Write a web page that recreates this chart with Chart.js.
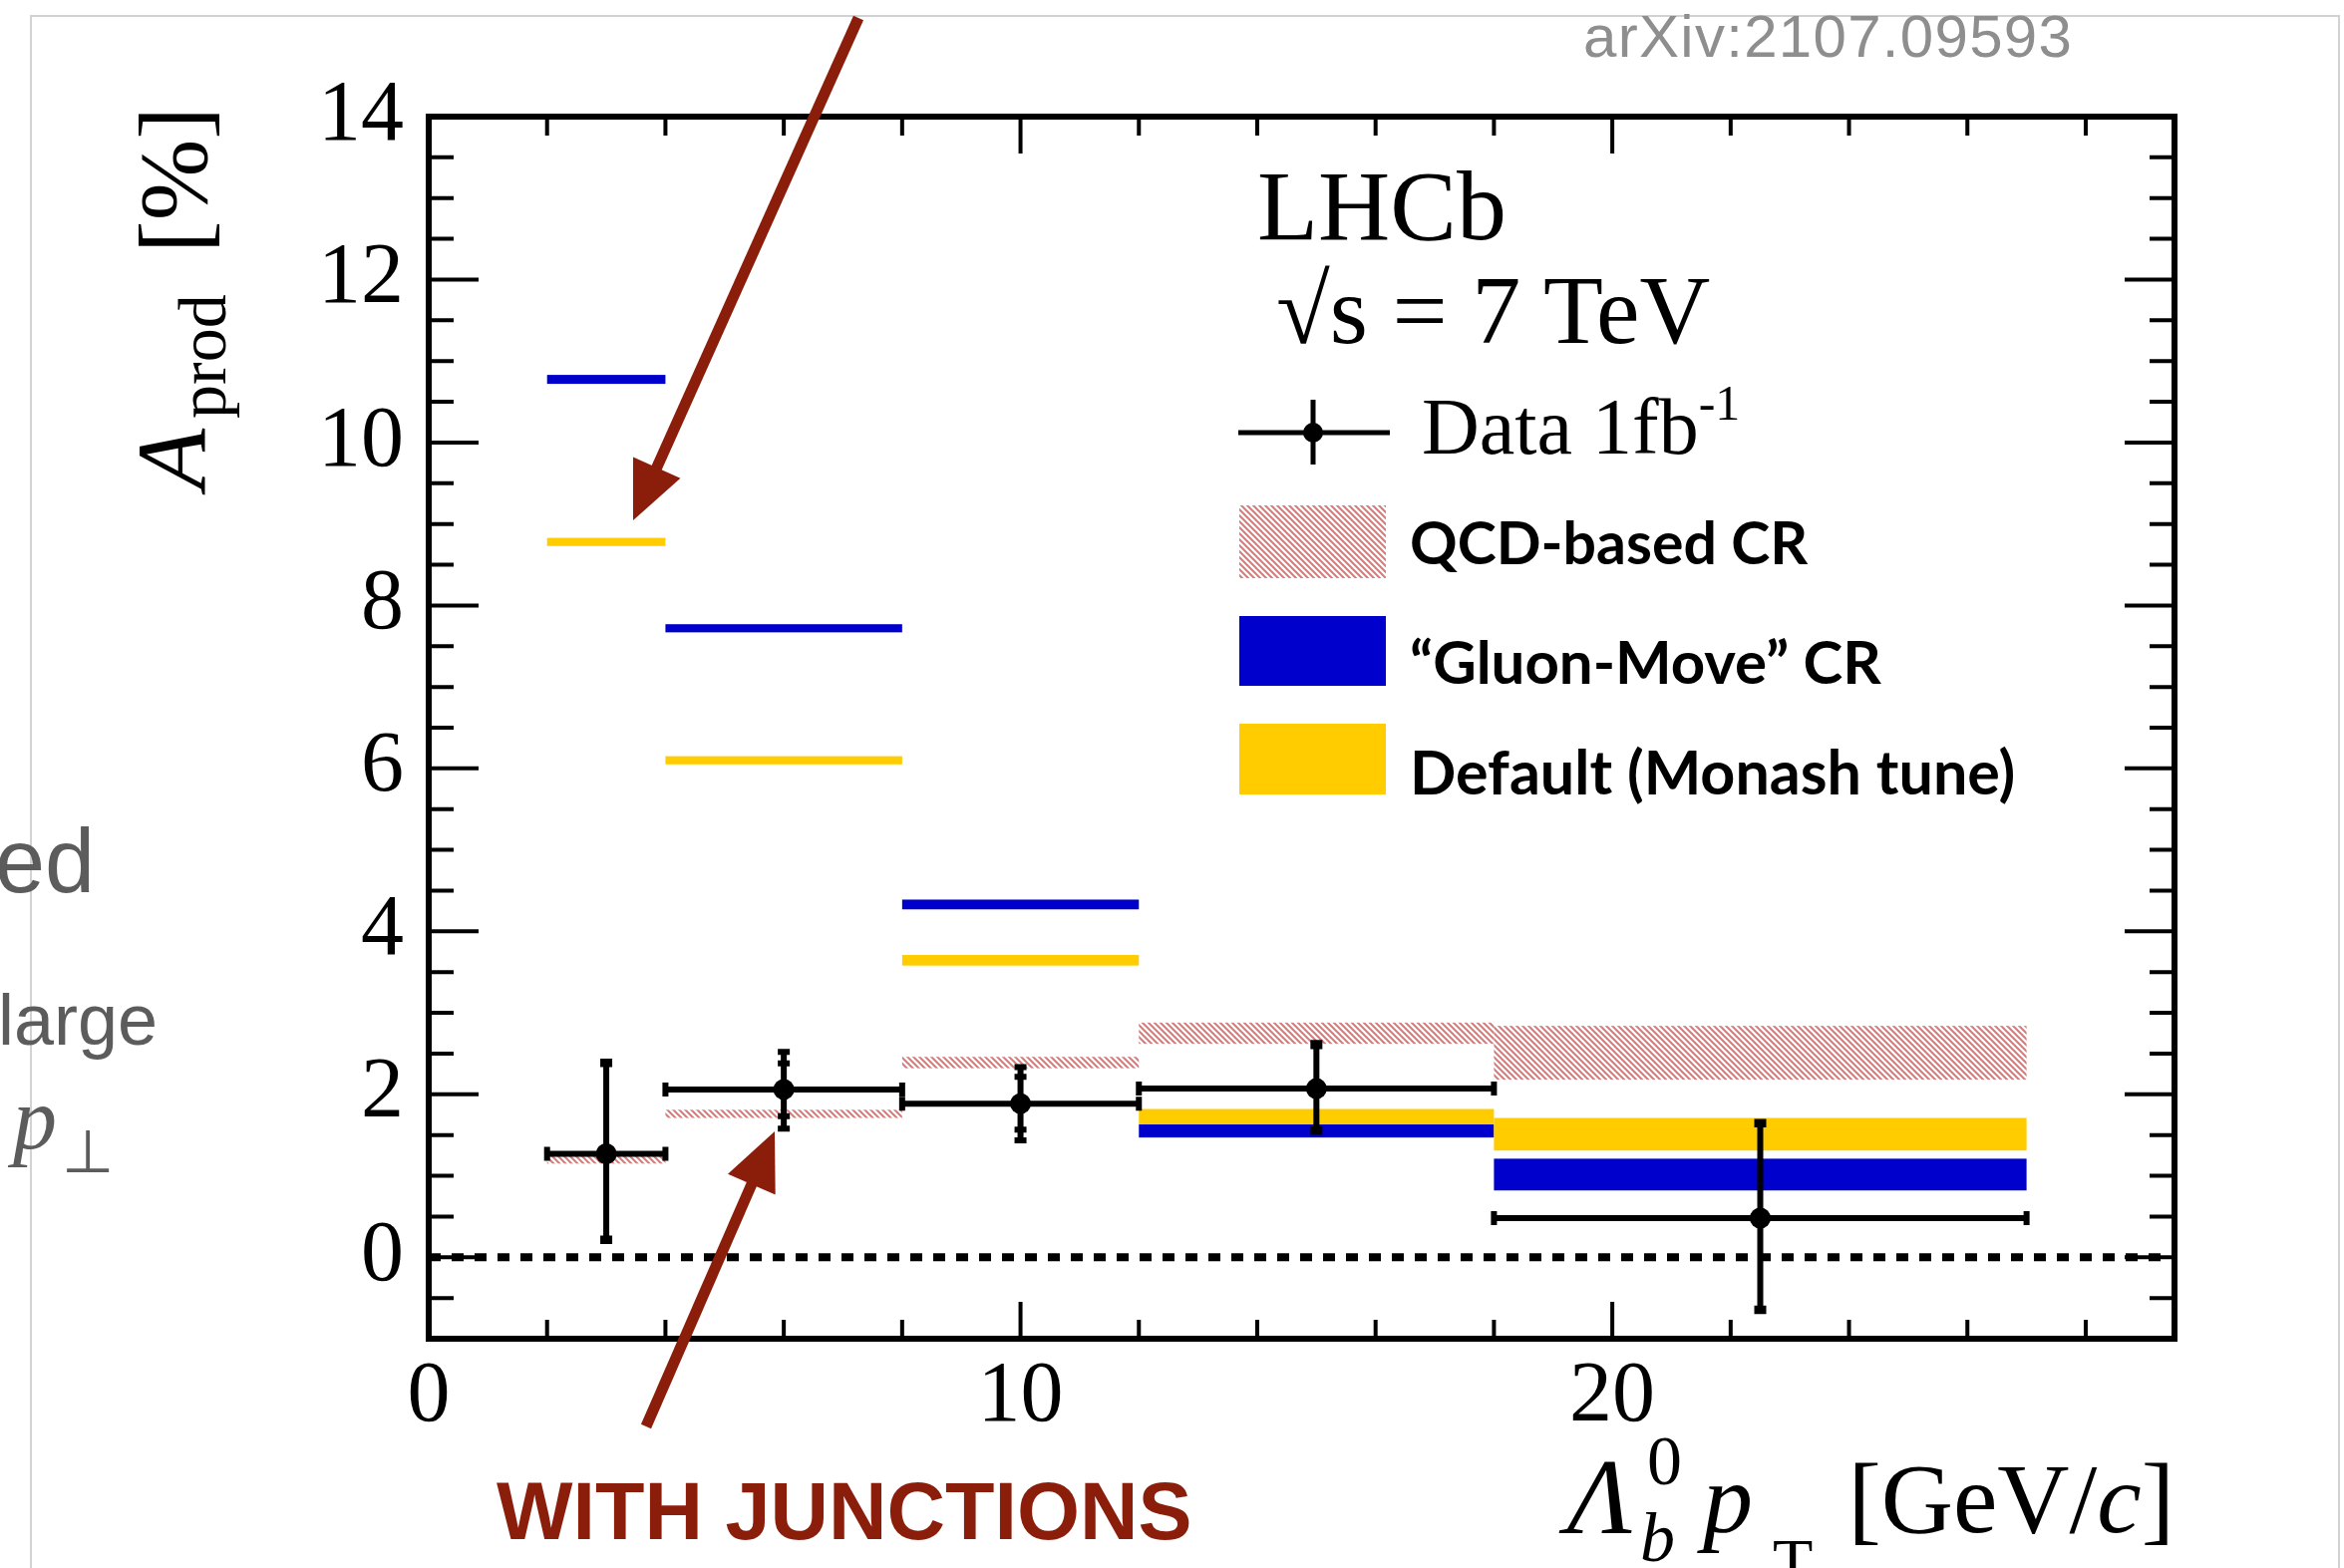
<!DOCTYPE html>
<html>
<head>
<meta charset="utf-8">
<title>LHCb A_prod vs Lambda_b pT</title>
<script src="https://cdn.jsdelivr.net/npm/chart.js@4.4.1/dist/chart.umd.min.js"></script>
<style>
  html, body { margin: 0; padding: 0; background: #fff; }
  #wrap { position: relative; width: 2351px; height: 1573px; overflow: hidden; background: #fff; }
  #chart { position: absolute; left: 0; top: 0; }
  .frame { position: absolute; left: 30px; top: 15px; width: 2317px; height: 1700px; border: 2px solid #d2d2d2; box-sizing: border-box; }
  .txt { position: absolute; line-height: 1; white-space: nowrap; color: #000; }
</style>
</head>
<body>
<div id="wrap">
  <div class="frame"></div>
  <canvas id="chart" width="2351" height="1573"></canvas>
</div>
<script>
// pT bins [GeV/c]
const binLo = [2, 4, 8, 12, 18];
const binHi = [4, 8, 12, 18, 27];

// LHCb data, 1 fb^-1 (total and statistical errors)
const dataPt = [3, 6, 10, 15, 22.5];
const dataAprod = [1.27, 2.06, 1.885, 2.07, 0.48];
const dataErrUp = [1.13, 0.46, 0.45, 0.56, 1.18];
const dataErrDown = [1.07, 0.48, 0.45, 0.53, 1.14];
const dataStatUp = [1.10, 0.32, 0.33, 0.52, 1.15];
const dataStatDown = [1.04, 0.33, 0.32, 0.50, 1.11];

// Pythia bands (low / high edge, %)
const qcdLow = [1.15, 1.71, 2.32, 2.62, 2.18];
const qcdHigh = [1.24, 1.81, 2.46, 2.88, 2.84];
const gluonLow = [10.72, 7.67, 4.27, 1.47, 0.82];
const gluonHigh = [10.83, 7.77, 4.39, 1.63, 1.21];
const monashLow = [8.73, 6.05, 3.58, 1.63, 1.31];
const monashHigh = [8.83, 6.15, 3.71, 1.82, 1.71];

const xTickValues = [0, 10, 20];
const yTickValues = [0, 2, 4, 6, 8, 10, 12, 14];

const BLUE = '#0000cc';
const YELLOW = '#ffcc00';
const ARROW = '#8b1d0b';

function makeHatch(ctx) {
  const p = 6;
  const c = document.createElement('canvas');
  c.width = c.height = p;
  const g = c.getContext('2d');
  g.strokeStyle = 'rgb(222, 120, 120)';
  g.lineWidth = 2;
  g.beginPath();
  g.moveTo(-1, -1); g.lineTo(p + 1, p + 1);
  g.moveTo(-1, p - 1); g.lineTo(1, p + 1);
  g.moveTo(p - 1, -1); g.lineTo(p + 1, 1);
  g.stroke();
  return ctx.createPattern(c, 'repeat');
}

function band(ctx, x, y, i, lo, hi, fill) {
  const x1 = x.getPixelForValue(binLo[i]), x2 = x.getPixelForValue(binHi[i]);
  const y1 = y.getPixelForValue(hi[i]), y2 = y.getPixelForValue(lo[i]);
  ctx.fillStyle = fill;
  ctx.fillRect(x1, y1, x2 - x1, y2 - y1);
}

function arrow(ctx, x0, y0, x1, y1) {
  const dx = x1 - x0, dy = y1 - y0, L = Math.hypot(dx, dy);
  const ux = dx / L, uy = dy / L;
  const head = 58, half = 26;
  const bx = x1 - ux * head, by = y1 - uy * head;
  ctx.strokeStyle = ARROW;
  ctx.fillStyle = ARROW;
  ctx.lineWidth = 11;
  ctx.beginPath();
  ctx.moveTo(x0, y0);
  ctx.lineTo(bx + ux * 6, by + uy * 6);
  ctx.stroke();
  ctx.beginPath();
  ctx.moveTo(x1, y1);
  ctx.lineTo(bx - uy * half, by + ux * half);
  ctx.lineTo(bx + uy * half, by - ux * half);
  ctx.closePath();
  ctx.fill();
}

const hepPlot = {
  id: 'hepPlot',
  beforeDatasetsDraw(chart) {
    const { ctx, chartArea: a, scales: { x, y } } = chart;
    ctx.save();
    ctx.beginPath();
    ctx.rect(a.left, a.top, a.right - a.left, a.bottom - a.top);
    ctx.clip();

    // dashed zero line
    const y0 = y.getPixelForValue(0);
    ctx.setLineDash([12, 11]);
    ctx.lineWidth = 8;
    ctx.strokeStyle = '#000';
    ctx.beginPath();
    ctx.moveTo(a.left, y0);
    ctx.lineTo(a.right, y0);
    ctx.stroke();
    ctx.setLineDash([]);

    // model bands
    const hatch = makeHatch(ctx);
    for (let i = 0; i < binLo.length; i++) {
      band(ctx, x, y, i, qcdLow, qcdHigh, hatch);
      band(ctx, x, y, i, monashLow, monashHigh, YELLOW);
      band(ctx, x, y, i, gluonLow, gluonHigh, BLUE);
    }

    // data error bars
    ctx.strokeStyle = '#000';
    ctx.lineWidth = 6;
    ctx.beginPath();
    for (let i = 0; i < dataPt.length; i++) {
      const xl = x.getPixelForValue(binLo[i]), xh = x.getPixelForValue(binHi[i]);
      const xc = x.getPixelForValue(dataPt[i]);
      const yc = y.getPixelForValue(dataAprod[i]);
      const yt = y.getPixelForValue(dataAprod[i] + dataErrUp[i]);
      const yb = y.getPixelForValue(dataAprod[i] - dataErrDown[i]);
      const st = y.getPixelForValue(dataAprod[i] + dataStatUp[i]);
      const sb = y.getPixelForValue(dataAprod[i] - dataStatDown[i]);
      ctx.moveTo(xl, yc); ctx.lineTo(xh, yc);
      ctx.moveTo(xl, yc - 7); ctx.lineTo(xl, yc + 7);
      ctx.moveTo(xh, yc - 7); ctx.lineTo(xh, yc + 7);
      ctx.moveTo(xc, yt); ctx.lineTo(xc, yb);
      ctx.moveTo(xc - 6, yt); ctx.lineTo(xc + 6, yt);
      ctx.moveTo(xc - 6, yb); ctx.lineTo(xc + 6, yb);
      ctx.moveTo(xc - 6, st); ctx.lineTo(xc + 6, st);
      ctx.moveTo(xc - 6, sb); ctx.lineTo(xc + 6, sb);
    }
    ctx.stroke();
    ctx.restore();
  },
  afterDraw(chart) {
    const { ctx, chartArea: a, scales: { x, y } } = chart;
    ctx.save();
    // frame
    ctx.strokeStyle = '#000';
    ctx.lineWidth = 6;
    ctx.strokeRect(a.left, a.top, a.right - a.left, a.bottom - a.top);

    // inward ticks on all sides
    ctx.lineWidth = 4;
    ctx.beginPath();
    for (let v = 2; v <= x.max; v += 2) {
      const px = x.getPixelForValue(v);
      const len = v % 10 === 0 ? 37 : 19;
      ctx.moveTo(px, a.bottom); ctx.lineTo(px, a.bottom - len);
      ctx.moveTo(px, a.top); ctx.lineTo(px, a.top + len);
    }
    for (let v = y.min + 0.5; v < y.max; v += 0.5) {
      const py = y.getPixelForValue(v);
      const len = v % 2 === 0 ? 50 : 25;
      ctx.moveTo(a.left, py); ctx.lineTo(a.left + len, py);
      ctx.moveTo(a.right, py); ctx.lineTo(a.right - len, py);
    }
    ctx.stroke();

    // legend symbols
    ctx.lineWidth = 5;
    ctx.beginPath();
    ctx.moveTo(1242, 434); ctx.lineTo(1394, 434);
    ctx.moveTo(1317, 401); ctx.lineTo(1317, 466);
    ctx.stroke();
    ctx.fillStyle = '#000';
    ctx.beginPath();
    ctx.arc(1317, 434, 10, 0, Math.PI * 2);
    ctx.fill();
    ctx.fillStyle = makeHatch(ctx);
    ctx.fillRect(1243, 507, 147, 73);
    ctx.fillStyle = BLUE;
    ctx.fillRect(1243, 618, 147, 70);
    ctx.fillStyle = YELLOW;
    ctx.fillRect(1243, 726, 147, 71);

    // annotation arrows
    arrow(ctx, 861, 18, 635, 522);
    arrow(ctx, 648, 1431, 777, 1135);
    ctx.restore();
  }
};

new Chart(document.getElementById('chart'), {
  type: 'scatter',
  data: {
    datasets: [{
      label: 'Data 1fb-1',
      data: dataPt.map((v, i) => ({ x: v, y: dataAprod[i] })),
      pointRadius: 10.5,
      pointHoverRadius: 10.5,
      pointBackgroundColor: '#000',
      pointBorderWidth: 0,
      showLine: false
    }]
  },
  options: {
    responsive: false,
    animation: false,
    devicePixelRatio: 1,
    events: [],
    layout: { padding: { left: 0, top: 117, right: 170, bottom: 0 } },
    plugins: { legend: { display: false }, tooltip: { enabled: false } },
    scales: {
      x: {
        type: 'linear', min: 0, max: 29.5,
        grid: { display: false, drawTicks: false },
        border: { display: false },
        afterBuildTicks: s => { s.ticks = xTickValues.map(v => ({ value: v })); },
        afterFit: s => { s.height = 230; },
        ticks: { font: { family: 'Liberation Serif', size: 86 }, color: '#000', padding: 8, maxRotation: 0, autoSkip: false }
      },
      y: {
        type: 'linear', min: -1, max: 14,
        grid: { display: false, drawTicks: false },
        border: { display: false },
        afterBuildTicks: s => { s.ticks = yTickValues.map(v => ({ value: v })); },
        afterFit: s => { s.width = 430; },
        ticks: { font: { family: 'Liberation Serif', size: 86 }, color: '#000', padding: 25, autoSkip: false }
      }
    }
  },
  plugins: [hepPlot]
});

// text overlay
const wrap = document.getElementById('wrap');
const K = { 'Liberation Serif': 0.8375, 'Liberation Sans': 0.8465, 'Lato': 0.887 };
function addText(html, x, base, size, family, extra) {
  extra = extra || {};
  const d = document.createElement('div');
  d.className = 'txt';
  d.innerHTML = html;
  d.style.fontFamily = "'" + family + "'";
  d.style.fontSize = size + 'px';
  d.style.top = (base - K[family] * size) + 'px';
  if (extra.right) d.style.right = (2351 - x) + 'px';
  else d.style.left = x + 'px';
  if (extra.css) d.style.cssText += extra.css;
  (extra.parent || wrap).appendChild(d);
  return d;
}

addText('arXiv:2107.09593', 1588, 58, 60, 'Liberation Sans', { css: 'color:#8e8e8e;letter-spacing:1.3px;' });
addText('LHCb', 1261, 241, 100, 'Liberation Serif');
addText('√s = 7 TeV', 1280, 344, 98, 'Liberation Serif');
addText('Data 1fb<span style="font-size:50px;position:relative;top:-34px">-1</span>', 1426, 455, 80, 'Liberation Serif');
addText('QCD-based CR', 1414, 566, 59, 'Lato', { css: 'font-weight:bold;' });
addText('“Gluon-Move” CR', 1414, 686, 60, 'Lato', { css: 'font-weight:bold;' });
addText('Default (Monash tune)', 1414, 797, 61, 'Lato', { css: 'font-weight:bold;' });

addText('WITH JUNCTIONS', 498, 1545, 81, 'Liberation Sans', { css: 'font-weight:bold;color:' + ARROW + ';' });
addText('ed', 95, 895, 90, 'Liberation Sans', { right: true, css: 'color:#5c5c5c;' });
addText('large', 158, 1048, 72, 'Liberation Sans', { right: true, css: 'color:#5c5c5c;' });
addText('<i>p</i>', 13, 1153, 88, 'Liberation Serif', { css: 'color:#5c5c5c;' });
addText('⊥', 62, 1176, 60, 'Liberation Serif', { css: 'color:#5c5c5c;' });

// x axis title
addText('<i>Λ</i>', 1572, 1538, 108, 'Liberation Serif');
addText('0', 1652, 1490, 70, 'Liberation Serif');
addText('<i>b</i>', 1645, 1567, 70, 'Liberation Serif');
addText('<i>p</i>', 1708, 1538, 100, 'Liberation Serif');
addText('T', 1778, 1589, 66, 'Liberation Serif');
addText('[GeV/<i>c</i>]', 2181, 1538, 100, 'Liberation Serif', { right: true });

// y axis title, rotated
const yTitle = document.createElement('div');
yTitle.style.cssText = 'position:absolute;left:0;top:491px;width:0;height:0;transform-origin:0 0;transform:rotate(-90deg);';
wrap.appendChild(yTitle);
addText('<i>A</i>', 0, 207, 100, 'Liberation Serif', { parent: yTitle });
addText('prod', 71, 226, 68, 'Liberation Serif', { parent: yTitle });
addText('[%]', 237, 207, 98, 'Liberation Serif', { parent: yTitle });
</script>
</body>
</html>
